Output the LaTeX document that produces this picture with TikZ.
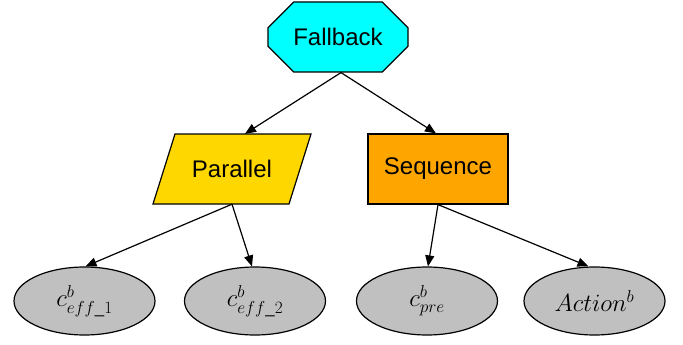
\documentclass[tikz,border=0pt]{standalone}
\usepackage{amsmath}
\usepackage{fontspec}
\setmainfont{Liberation Sans}
\usetikzlibrary{shapes.misc,shapes.geometric,arrows.meta}
\definecolor{fbcol}{HTML}{00FFFF}
\definecolor{parcol}{HTML}{FFD700}
\definecolor{seqcol}{HTML}{FFA500}
\definecolor{leafcol}{HTML}{C0C0C0}
\tikzset{
  ctrl/.style={font=\fontsize{24}{28}\selectfont, line width=1.2pt, draw=black},
  octa/.style={ctrl, chamfered rectangle, chamfered rectangle xsep=17pt, chamfered rectangle ysep=17pt, fill=fbcol, minimum width=140pt, minimum height=70pt, inner sep=0pt},
  seqbox/.style={ctrl, rectangle, fill=seqcol, minimum width=140pt, minimum height=70pt, inner sep=0pt},
  parbox/.style={font=\fontsize{24}{28}\selectfont, minimum width=136pt, minimum height=70pt, inner sep=0pt},
  leaf/.style={ellipse, draw=black, line width=1.2pt, fill=leafcol, minimum width=141pt, minimum height=68pt, inner sep=0pt, font=\fontsize{24}{28}\selectfont},
  arr/.style={line width=1.2pt, -{Triangle[length=11pt,width=9pt]}}
}
\begin{document}
\begin{tikzpicture}[x=1pt,y=-1pt]
\useasboundingbox (0,0) rectangle (683,345);
\node[octa] (fb) at (338,37) {Fallback};
\node[seqbox] (seq) at (438,169) {Sequence};
\filldraw[fill=parcol, line width=1.2pt] (175,134) -- (311,134) -- (289,204) -- (153,204) -- cycle;
\node[parbox] (par) at (232,169) {Parallel};
\node[leaf] (e1) at (84.5,301) {$c^{b}_{eff\text{\_}1}$};
\node[leaf] (e2) at (255,301) {$c^{b}_{eff\text{\_}2}$};
\node[leaf] (e3) at (427,301) {$c^{b}_{pre}$};
\node[leaf] (e4) at (594.5,301) {$Action^{b}$};
\draw[arr] ([xshift=3pt]fb.south) -- ([xshift=13pt]par.north);
\draw[arr] ([xshift=3pt]fb.south) -- ([xshift=-2pt]seq.north);
\draw[arr] (par.south) -- ([xshift=1pt]e1.north);
\draw[arr] (par.south) -- ([xshift=-3pt]e2.north);
\draw[arr] (seq.south) -- ([xshift=1pt]e3.north);
\draw[arr] (seq.south) -- ([xshift=-6pt]e4.north);
\end{tikzpicture}
\end{document}
